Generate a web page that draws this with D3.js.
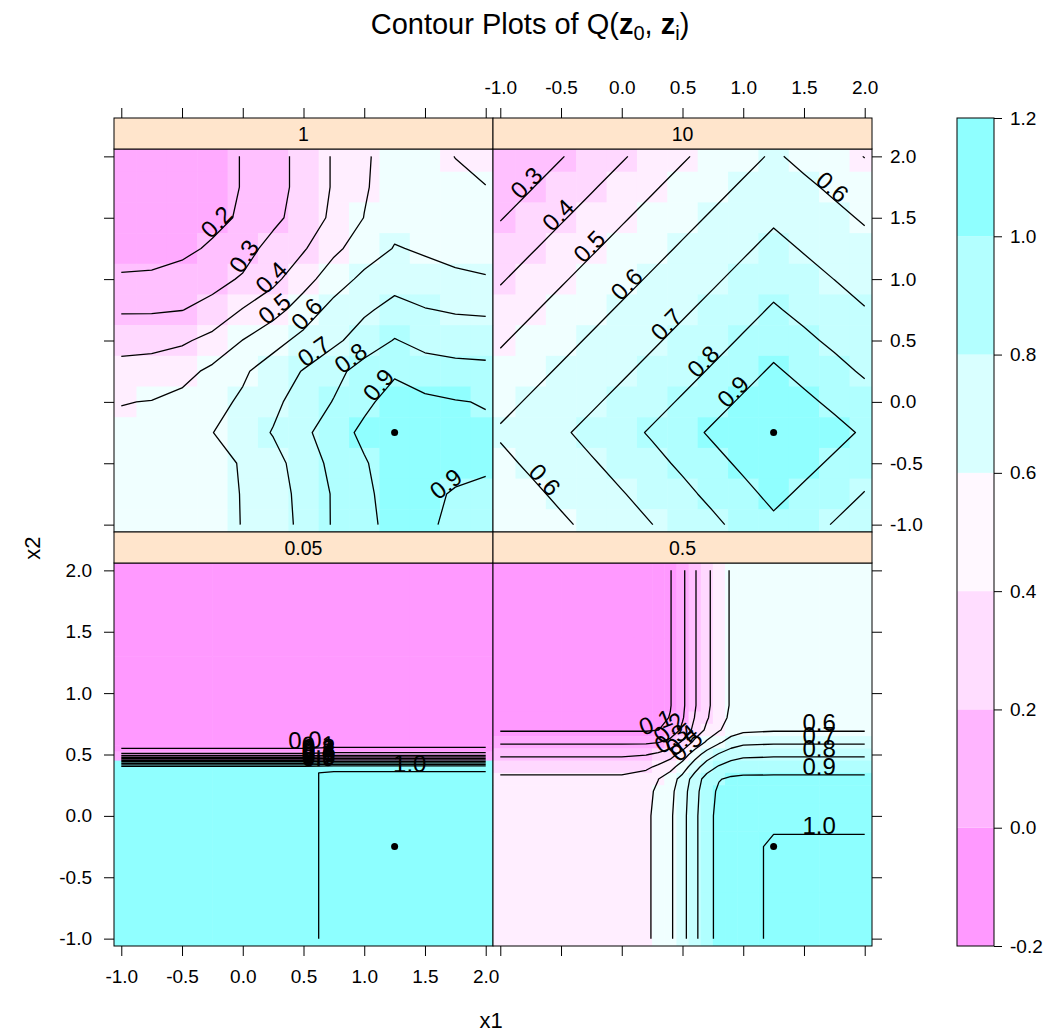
<!DOCTYPE html>
<html>
<head>
<meta charset="utf-8">
<script src="https://cdn.jsdelivr.net/npm/d3@7"></script>
<style>
  body { margin: 0; background: #fff; }
  svg text { font-family: "Liberation Sans", Arial, Helvetica, sans-serif; fill: #000; }
</style>
</head>
<body>
<svg id="chart" width="1055" height="1034"></svg>
<script>
// ---------------- data ----------------
const axisTicks = [-1, -0.5, 0, 0.5, 1, 1.5, 2];
const keyTicks = [-0.2, 0, 0.2, 0.4, 0.6, 0.8, 1.0, 1.2];
const contourLevels = [0, 0.1, 0.2, 0.3, 0.4, 0.5, 0.6, 0.7, 0.8, 0.9, 1.0];
const z0 = [1.25, -0.25];

// regular grid for the "1" and "10" panels (x left->right, y top->bottom)
const gridX = [-1, -0.75, -0.5, -0.25, 0, 0.25, 0.5, 0.75, 1, 1.25, 1.5, 1.75, 2];
const gridY = [2, 1.75, 1.5, 1.25, 1, 0.75, 0.5, 0.25, 0, -0.25, -0.5, -0.75, -1];

const q1 = [
  [0.10, 0.11, 0.13, 0.16, 0.205, 0.265, 0.33, 0.41, 0.485, 0.55, 0.56, 0.497, 0.46],
  [0.10, 0.11, 0.13, 0.16, 0.205, 0.265, 0.33, 0.41, 0.49, 0.55, 0.565, 0.54, 0.503],
  [0.11, 0.12, 0.14, 0.17, 0.215, 0.275, 0.345, 0.42, 0.502, 0.57, 0.575, 0.56, 0.55],
  [0.13, 0.14, 0.175, 0.215, 0.26, 0.335, 0.39, 0.48, 0.545, 0.605, 0.59, 0.575, 0.57],
  [0.22, 0.225, 0.24, 0.27, 0.31, 0.375, 0.465, 0.55, 0.625, 0.665, 0.63, 0.615, 0.605],
  [0.29, 0.29, 0.298, 0.33, 0.405, 0.465, 0.545, 0.635, 0.685, 0.73, 0.705, 0.69, 0.685],
  [0.365, 0.37, 0.385, 0.43, 0.502, 0.565, 0.63, 0.68, 0.745, 0.805, 0.77, 0.76, 0.755],
  [0.433, 0.44, 0.47, 0.52, 0.585, 0.65, 0.705, 0.77, 0.84, 0.885, 0.845, 0.83, 0.825],
  [0.497, 0.503, 0.525, 0.57, 0.615, 0.68, 0.74, 0.805, 0.875, 0.945, 0.92, 0.905, 0.895],
  [0.52, 0.53, 0.56, 0.598, 0.655, 0.705, 0.78, 0.85, 0.925, 0.99, 0.955, 0.93, 0.915],
  [0.535, 0.545, 0.56, 0.58, 0.605, 0.67, 0.74, 0.83, 0.89, 0.96, 0.955, 0.935, 0.915],
  [0.545, 0.55, 0.56, 0.575, 0.603, 0.655, 0.73, 0.81, 0.88, 0.94, 0.925, 0.89, 0.88],
  [0.55, 0.555, 0.565, 0.578, 0.602, 0.65, 0.725, 0.81, 0.875, 0.93, 0.915, 0.88, 0.87]
];

const q10 = [
  [0.205, 0.25, 0.295, 0.34, 0.39, 0.44, 0.49, 0.53, 0.575, 0.61, 0.58, 0.544, 0.497],
  [0.25, 0.295, 0.34, 0.39, 0.44, 0.49, 0.53, 0.575, 0.61, 0.645, 0.615, 0.586, 0.55],
  [0.295, 0.34, 0.39, 0.44, 0.49, 0.53, 0.575, 0.61, 0.645, 0.685, 0.651, 0.62, 0.591],
  [0.34, 0.39, 0.44, 0.49, 0.53, 0.575, 0.61, 0.645, 0.685, 0.73, 0.692, 0.657, 0.626],
  [0.39, 0.44, 0.49, 0.53, 0.575, 0.61, 0.645, 0.685, 0.73, 0.77, 0.736, 0.699, 0.663],
  [0.44, 0.49, 0.53, 0.575, 0.61, 0.645, 0.685, 0.73, 0.77, 0.81, 0.776, 0.742, 0.705],
  [0.49, 0.53, 0.575, 0.61, 0.645, 0.685, 0.73, 0.77, 0.81, 0.87, 0.819, 0.782, 0.748],
  [0.53, 0.575, 0.61, 0.645, 0.685, 0.73, 0.77, 0.81, 0.87, 0.912, 0.876, 0.828, 0.788],
  [0.575, 0.61, 0.645, 0.685, 0.73, 0.77, 0.81, 0.87, 0.912, 0.955, 0.918, 0.883, 0.837],
  [0.61, 0.645, 0.685, 0.73, 0.77, 0.81, 0.87, 0.912, 0.955, 0.99, 0.96, 0.925, 0.889],
  [0.579, 0.614, 0.649, 0.69, 0.734, 0.774, 0.816, 0.874, 0.916, 0.959, 0.923, 0.887, 0.843],
  [0.539, 0.582, 0.617, 0.653, 0.694, 0.738, 0.778, 0.822, 0.878, 0.921, 0.885, 0.84, 0.796],
  [0.502, 0.544, 0.586, 0.62, 0.657, 0.699, 0.742, 0.782, 0.828, 0.883, 0.837, 0.794, 0.76]
];

// "0.05": a step surface, read on an uneven grid
const gridX005 = [-1, 0.5, 0.75, 2];
const gridY005 = [2, 0.6, 0.55, 0.5, 0.4, 0.35, -1];
const q005 = [
  [-0.10, -0.10, -0.10, -0.10],
  [-0.08, -0.08, -0.08, -0.08],
  [-0.002, -0.002, 0.015, 0.015],
  [0.12, 0.12, 0.14, 0.14],
  [0.93, 0.93, 0.96, 0.96],
  [0.99, 0.99, 1.01, 1.01],
  [0.99, 0.99, 1.01, 1.01]
];

// "0.5": uneven grid, denser where the surface turns
const gridX05 = [-1, 0, 0.2, 0.3, 0.4, 0.5, 0.6, 0.7, 0.8, 0.9, 1.0, 1.25, 2];
const gridY05 = [2, 0.9, 0.8, 0.7, 0.6, 0.5, 0.4, 0.3, 0.2, 0, -0.25, -1];
const q05 = [
  [0.05, 0.05, 0.05, 0.06, 0.095, 0.18, 0.29, 0.38, 0.45, 0.51, 0.54, 0.55, 0.55],
  [0.05, 0.05, 0.05, 0.06, 0.095, 0.18, 0.29, 0.38, 0.45, 0.51, 0.54, 0.55, 0.55],
  [0.06, 0.06, 0.06, 0.07, 0.105, 0.19, 0.302, 0.39, 0.46, 0.52, 0.55, 0.56, 0.56],
  [0.09, 0.09, 0.09, 0.098, 0.135, 0.22, 0.33, 0.42, 0.49, 0.55, 0.58, 0.59, 0.59],
  [0.185, 0.185, 0.185, 0.195, 0.23, 0.315, 0.425, 0.515, 0.585, 0.645, 0.675, 0.685, 0.685],
  [0.285, 0.285, 0.295, 0.318, 0.36, 0.443, 0.553, 0.645, 0.71, 0.757, 0.778, 0.785, 0.785],
  [0.36, 0.36, 0.38, 0.417, 0.465, 0.547, 0.657, 0.752, 0.81, 0.843, 0.857, 0.86, 0.86],
  [0.42, 0.42, 0.45, 0.498, 0.555, 0.635, 0.745, 0.84, 0.895, 0.915, 0.92, 0.92, 0.92],
  [0.44, 0.44, 0.47, 0.52, 0.575, 0.655, 0.765, 0.86, 0.915, 0.935, 0.94, 0.94, 0.94],
  [0.45, 0.45, 0.48, 0.53, 0.585, 0.665, 0.775, 0.87, 0.925, 0.945, 0.95, 0.97, 0.97],
  [0.45, 0.45, 0.48, 0.53, 0.585, 0.665, 0.775, 0.87, 0.925, 0.945, 0.96, 1.02, 1.02],
  [0.45, 0.45, 0.48, 0.53, 0.585, 0.665, 0.775, 0.87, 0.925, 0.945, 0.96, 1.02, 1.02]
];

// panel layout: col 0/1, row 0 = top, 1 = bottom
const panels = [
  { name: '1', col: 0, row: 0, xs: gridX, ys: gridY, z: q1 },
  { name: '10', col: 1, row: 0, xs: gridX, ys: gridY, z: q10 },
  { name: '0.05', col: 0, row: 1, xs: gridX005, ys: gridY005, z: q005 },
  { name: '0.5', col: 1, row: 1, xs: gridX05, ys: gridY05, z: q05 }
];

// ---------------- style ----------------
const fillColors = ['#FF99FF', '#FF99FF', '#FF99FF', '#FFAAFF', '#FFC0FF', '#FFD8FF', '#FFEEFF',
                    '#F0FFFF', '#D8FFFF', '#C5FFFF', '#B0FFFF', '#90FFFF', '#8DFFFF', '#8DFFFF'];
const keyColors = ['#FF99FF', '#FFB5FF', '#FFDDFF', '#FFF8FF', '#D9FFFF', '#B3FFFF', '#8FFFFF'];
const stripColor = '#FFE5CC';
const tickFont = 19;
const labelFont = 24;

const domain = [-1.06, 2.06];
const colRange = [[114, 493], [493, 872]];
const rowRange = [[149, 532], [563, 946]];
const stripH = 31;

const svg = d3.select('#chart');
const fmt = d => d.toFixed(1);

function bandColor(v) {
  let i = Math.floor((v + 0.2) * 10 + 1e-9);
  i = Math.max(0, Math.min(fillColors.length - 1, i));
  return fillColors[i];
}

function cellEdges(c) {
  return c.map((v, i) => {
    const lo = i === 0 ? v - (c[1] - c[0]) / 2 : (c[i - 1] + v) / 2;
    const hi = i === c.length - 1 ? v + (v - c[i - 1]) / 2 : (v + c[i + 1]) / 2;
    return [lo, hi];
  });
}

// contour lines of one level, in data coordinates; the padding points d3 adds
// on the grid border are dropped so that only the real lines are left
function isolines(p, level) {
  const nx = p.xs.length, ny = p.ys.length;
  const fx = d3.scaleLinear().domain(d3.range(nx)).range(p.xs).clamp(true);
  const fy = d3.scaleLinear().domain(d3.range(ny)).range(p.ys).clamp(true);
  const shape = d3.contours().size([nx, ny]).thresholds([level])(p.z.flat())[0];
  const onEdge = q => q[0] <= 0 || q[0] >= nx || q[1] <= 0 || q[1] >= ny;
  const toData = q => [fx(q[0] - 0.5), fy(q[1] - 0.5)];
  const out = [];
  shape.coordinates.forEach(poly => poly.forEach(ring => {
    let pts = ring.slice();
    const a = pts[0], b = pts[pts.length - 1];
    if (a[0] === b[0] && a[1] === b[1]) pts = pts.slice(0, -1);
    const n = pts.length;
    const edge = pts.map(onEdge);
    if (!edge.includes(true)) {
      out.push({ closed: true, pts: pts.concat([pts[0]]).map(toData) });
      return;
    }
    const s = edge.indexOf(true);
    let chain = [];
    for (let k = 1; k <= n; k++) {
      const i = (s + k) % n;
      if (edge[i]) {
        if (chain.length > 1) out.push({ closed: false, pts: chain.map(toData) });
        chain = [];
      } else {
        chain.push(pts[i]);
      }
    }
    if (chain.length > 1) out.push({ closed: false, pts: chain.map(toData) });
  }));
  out.forEach(l => {
    if (!l.closed && l.pts[0][0] > l.pts[l.pts.length - 1][0]) l.pts.reverse();
  });
  return out;
}

// lattice-like "mixed" labels: flat where the line is flat inside, else along the line at its deepest point
function labelSpot(pts, p, x, y) {
  const xr = d3.extent(p.xs), yr = d3.extent(p.ys);
  const depth = pts.map(q => Math.min(
    Math.min(q[0] - xr[0], xr[1] - q[0]) / (xr[1] - xr[0]),
    Math.min(q[1] - yr[0], yr[1] - q[1]) / (yr[1] - yr[0])));
  const nseg = pts.length - 1;
  let k = -1;
  for (let i = 0; i < nseg; i++) {
    if (Math.abs(pts[i + 1][1] - pts[i][1]) < 1e-9 && Math.abs(pts[i + 1][0] - pts[i][0]) > 1e-9) { k = i; break; }
  }
  const flat = k >= 0 && depth[k] >= 0.05;
  if (!flat) k = Math.min(d3.maxIndex(depth), nseg - 1);
  const x1 = x(pts[k][0]), y1 = y(pts[k][1]), x2 = x(pts[k + 1][0]), y2 = y(pts[k + 1][1]);
  let ang = flat ? 0 : Math.atan((y2 - y1) / (x2 - x1)) * 180 / Math.PI;
  if (isNaN(ang)) ang = 0;
  return { x: (x1 + x2) / 2, y: (y1 + y2) / 2, angle: ang };
}

function styleAxis(g) {
  g.select('.domain').remove();
  g.attr('font-size', tickFont).attr('font-family', null);
  g.selectAll('line').attr('stroke', '#000');
  g.selectAll('text').attr('fill', '#000');
}

// ---------------- panels ----------------
panels.forEach((p, idx) => {
  const [x0, x1] = colRange[p.col];
  const [yt, yb] = rowRange[p.row];
  const x = d3.scaleLinear().domain(domain).range([x0, x1]);
  const y = d3.scaleLinear().domain(domain).range([yb, yt]);

  const clipId = 'clip' + idx;
  svg.append('clipPath').attr('id', clipId)
    .append('rect').attr('x', x0).attr('y', yt).attr('width', x1 - x0).attr('height', yb - yt);

  const g = svg.append('g').attr('clip-path', 'url(#' + clipId + ')');

  // level cells
  const ex = cellEdges(p.xs), ey = cellEdges(p.ys);
  p.z.forEach((row, j) => row.forEach((v, i) => {
    const xa = x(ex[i][0]), xb = x(ex[i][1]);
    const ya = y(ey[j][0]), yb2 = y(ey[j][1]);
    g.append('rect')
      .attr('x', Math.min(xa, xb)).attr('y', Math.min(ya, yb2))
      .attr('width', Math.abs(xb - xa) + 0.5).attr('height', Math.abs(yb2 - ya) + 0.5)
      .attr('fill', bandColor(v));
  }));

  // contour lines and labels
  const line = d3.line().x(d => x(d[0])).y(d => y(d[1]));
  const labels = [];
  contourLevels.forEach(level => {
    isolines(p, level).forEach(l => {
      g.append('path').attr('d', line(l.pts))
        .attr('fill', 'none').attr('stroke', '#000').attr('stroke-width', 1.3)
        .attr('stroke-linejoin', 'round');
      const len = d3.sum(d3.pairs(l.pts), ([a, b]) => Math.hypot(x(b[0]) - x(a[0]), y(b[1]) - y(a[1])));
      if (len > 50) labels.push(Object.assign({ text: fmt(level) }, labelSpot(l.pts, p, x, y)));
    });
  });
  labels.forEach(L => {
    g.append('text')
      .attr('transform', 'translate(' + L.x + ',' + L.y + ') rotate(' + L.angle + ')')
      .attr('text-anchor', 'middle')
      .attr('font-size', labelFont)
      .text(L.text);
  });

  g.append('circle').attr('cx', x(z0[0])).attr('cy', y(z0[1])).attr('r', 3.5).attr('fill', '#000');

  svg.append('rect').attr('x', x0).attr('y', yt).attr('width', x1 - x0).attr('height', yb - yt)
    .attr('fill', 'none').attr('stroke', '#000').attr('stroke-width', 1);

  // strip
  svg.append('rect').attr('x', x0).attr('y', yt - stripH).attr('width', x1 - x0).attr('height', stripH)
    .attr('fill', stripColor).attr('stroke', '#000').attr('stroke-width', 1);
  svg.append('text').attr('x', (x0 + x1) / 2).attr('y', yt - stripH / 2).attr('dy', '0.36em')
    .attr('text-anchor', 'middle').attr('font-size', 19.5).text(p.name);

  // axes (alternating like lattice)
  if (p.row === 1) {
    const ax = d3.axisBottom(x).tickValues(axisTicks).tickSize(10).tickPadding(14)
      .tickFormat(p.col === 0 ? fmt : () => '');
    svg.append('g').attr('transform', 'translate(0,' + yb + ')').call(ax).call(styleAxis);
  } else {
    const ax = d3.axisTop(x).tickValues(axisTicks).tickSize(10).tickPadding(14)
      .tickFormat(p.col === 1 ? fmt : () => '');
    svg.append('g').attr('transform', 'translate(0,' + (yt - stripH) + ')').call(ax).call(styleAxis);
  }
  if (p.col === 0) {
    const ay = d3.axisLeft(y).tickValues(axisTicks).tickSize(10).tickPadding(12)
      .tickFormat(p.row === 1 ? fmt : () => '');
    svg.append('g').attr('transform', 'translate(' + x0 + ',0)').call(ay).call(styleAxis);
  } else {
    const ay = d3.axisRight(y).tickValues(axisTicks).tickSize(10).tickPadding(8)
      .tickFormat(p.row === 0 ? fmt : () => '');
    svg.append('g').attr('transform', 'translate(' + x1 + ',0)').call(ay).call(styleAxis);
  }
});

// ---------------- colour key ----------------
const keyX = 957, keyW = 37;
const ky = d3.scaleLinear().domain([keyTicks[0], keyTicks[keyTicks.length - 1]]).range([946, 118]);
d3.pairs(keyTicks).forEach(([lo, hi], i) => {
  svg.append('rect').attr('x', keyX).attr('y', ky(hi)).attr('width', keyW).attr('height', ky(lo) - ky(hi))
    .attr('fill', keyColors[i]);
});
svg.append('rect').attr('x', keyX).attr('y', 118).attr('width', keyW).attr('height', 946 - 118)
  .attr('fill', 'none').attr('stroke', '#000');
svg.append('g').attr('transform', 'translate(' + (keyX + keyW) + ',0)')
  .call(d3.axisRight(ky).tickValues(keyTicks).tickSize(8).tickPadding(8).tickFormat(fmt))
  .call(styleAxis);

// ---------------- titles ----------------
const title = svg.append('text').attr('x', 530).attr('y', 34).attr('text-anchor', 'middle').attr('font-size', 29);
title.append('tspan').text('Contour Plots of Q(');
title.append('tspan').attr('font-weight', 'bold').text('z');
title.append('tspan').attr('font-size', 20).attr('dy', 6).text('0');
title.append('tspan').attr('dy', -6).text(', ');
title.append('tspan').attr('font-weight', 'bold').text('z');
title.append('tspan').attr('font-size', 20).attr('dy', 6).text('i');
title.append('tspan').attr('dy', -6).text(')');

svg.append('text').attr('x', 491).attr('y', 1028).attr('text-anchor', 'middle').attr('font-size', 22).text('x1');
svg.append('text').attr('transform', 'translate(40,548) rotate(-90)').attr('text-anchor', 'middle')
  .attr('font-size', 22).text('x2');
</script>
</body>
</html>
